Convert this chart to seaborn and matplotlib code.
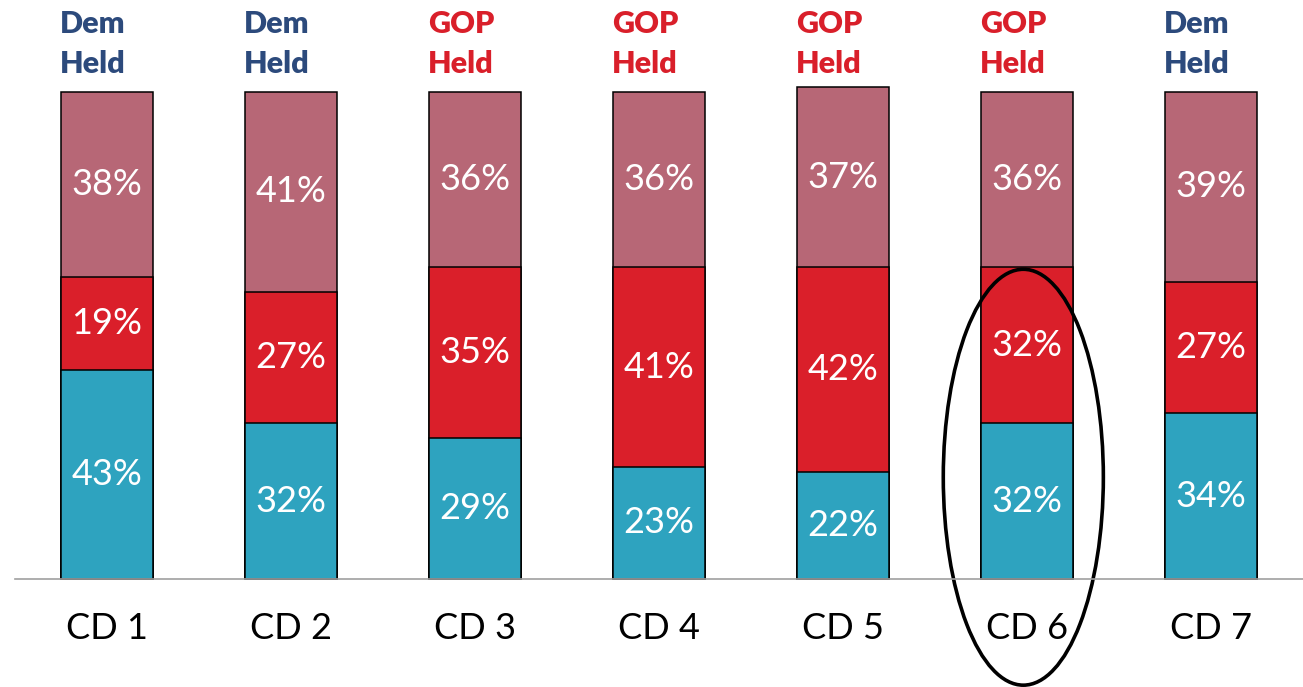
"""
Stacked share bars by congressional district
"""
import matplotlib.pyplot as plt
import pandas as pd
import seaborn as sns
from matplotlib.patches import Ellipse

districts = ["CD 1", "CD 2", "CD 3", "CD 4", "CD 5", "CD 6", "CD 7"]
held_by = ["Dem", "Dem", "GOP", "GOP", "GOP", "GOP", "Dem"]
bottom_pct = [43, 32, 29, 23, 22, 32, 34]
middle_pct = [19, 27, 35, 41, 42, 32, 27]
top_pct = [38, 41, 36, 36, 37, 36, 39]

TEAL = "#2EA3BF"
RED = "#DA1F2A"
MAUVE = "#B76776"
PARTY_COLOR = {"Dem": "#2C4A7C", "GOP": "#D91F2A"}

sns.set_theme(style="white")
plt.rcParams["font.family"] = ["Lato", "DejaVu Sans"]

df = pd.DataFrame(
    {"cd": districts, "bottom": bottom_pct, "middle": middle_pct, "top": top_pct}
)
df["mid_cum"] = df["bottom"] + df["middle"]
df["top_cum"] = df["mid_cum"] + df["top"]

fig = plt.figure(figsize=(13.03, 6.87), dpi=100)
ax = fig.add_axes([15 / 1303, 108 / 687, 1288 / 1303, 487 / 687])

# layered cumulative bars -> stacked look
for col, color in [("top_cum", MAUVE), ("mid_cum", RED), ("bottom", TEAL)]:
    sns.barplot(
        data=df, x="cd", y=col, color=color, width=0.505, ax=ax,
        edgecolor="black", linewidth=1.1, saturation=1,
    )
for p in ax.patches:
    p.set_clip_on(False)

for i, row in df.iterrows():
    ax.text(i, row["bottom"] / 2, f"{row['bottom']}%", ha="center", va="center",
            color="white", fontsize=26)
    ax.text(i, row["bottom"] + row["middle"] / 2, f"{row['middle']}%", ha="center",
            va="center", color="white", fontsize=26)
    ax.text(i, row["mid_cum"] + row["top"] / 2, f"{row['top']}%", ha="center",
            va="center", color="white", fontsize=26)
    c = PARTY_COLOR[held_by[i]]
    ax.text(i - 0.255, 112.1, held_by[i], ha="left", va="baseline", color=c,
            fontsize=22, fontweight="heavy", clip_on=False)
    ax.text(i - 0.255, 103.9, "Held", ha="left", va="baseline", color=c,
            fontsize=22, fontweight="heavy", clip_on=False)

ax.add_patch(Ellipse((4.98, 20.9), 0.87, 85.4, fill=False, edgecolor="black",
                     linewidth=2.6, clip_on=False))

ax.set_xlim(-0.5, 6.5)
ax.set_ylim(0, 100)
ax.set_xlabel("")
ax.set_ylabel("")
ax.set_yticks([])
ax.tick_params(axis="x", length=0, labelsize=26, pad=24, colors="black")
for s in ["top", "left", "right"]:
    ax.spines[s].set_visible(False)
ax.spines["bottom"].set_color("#A0A0A0")
ax.spines["bottom"].set_linewidth(1.2)

plt.savefig("out.png", dpi=100)
plt.close()
